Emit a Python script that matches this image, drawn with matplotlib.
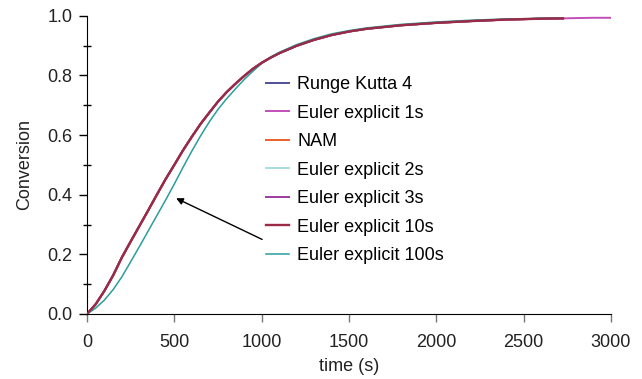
import matplotlib
matplotlib.use('Agg')
import matplotlib.pyplot as plt
from matplotlib.ticker import MultipleLocator, FormatStrFormatter

plt.rcParams['font.family'] = ['Liberation Sans', 'DejaVu Sans']

# time grid (s)
time = [0, 50, 100, 150, 200, 250, 300, 350, 400, 450, 500, 550, 600, 650, 700, 750, 800,
        850, 900, 950, 1000, 1050, 1100, 1200, 1300, 1400, 1500, 1600, 1800, 2000, 2200,
        2400, 2600, 2725]
# small-step solvers all sit on top of each other
conv_fine = [0, 0.033, 0.078, 0.13, 0.19, 0.243, 0.295, 0.347, 0.40, 0.452, 0.50, 0.549,
             0.594, 0.637, 0.675, 0.712, 0.744, 0.772, 0.798, 0.822, 0.842, 0.859, 0.874,
             0.899, 0.919, 0.935, 0.947, 0.956, 0.968, 0.976, 0.982, 0.987, 0.990, 0.991]
# Euler explicit 100s lags behind at the start
conv_100s = [0, 0.02, 0.047, 0.082, 0.125, 0.175, 0.226, 0.278, 0.33, 0.382, 0.436, 0.492,
             0.546, 0.597, 0.644, 0.686, 0.722, 0.755, 0.786, 0.814, 0.84, 0.861, 0.877,
             0.903, 0.923, 0.939, 0.95, 0.959, 0.971, 0.979, 0.985, 0.989, 0.991, 0.992]
# Euler explicit 1s runs out to 3000 s
time_tail = [2800, 2900, 3000]
conv_tail = [0.992, 0.993, 0.993]

labels = ['Runge Kutta 4', 'Euler explicit 1s', 'NAM', 'Euler explicit 2s',
          'Euler explicit 3s', 'Euler explicit 10s', 'Euler explicit 100s']
colors = ['#4f4f95', '#c24fb8', '#e8602c', '#a8dede', '#9c3ca0', '#9a2a45', '#2a9d9d']

fig = plt.figure(figsize=(6.42, 3.79), dpi=100)
ax = fig.add_axes([87 / 642, 1 - 314 / 379, (611 - 87) / 642, (314 - 15.7) / 379])

for i, lab in enumerate(labels):
    if lab == 'Euler explicit 100s':
        ax.plot(time, conv_100s, color=colors[i], lw=1.1, label=lab, zorder=3)
    elif lab == 'Euler explicit 1s':
        ax.plot(time + time_tail, conv_fine + conv_tail, color=colors[i], lw=1.4, label=lab, zorder=2)
    elif lab == 'Euler explicit 10s':
        ax.plot(time, conv_fine, color=colors[i], lw=1.7, label=lab, zorder=4)
    else:
        ax.plot(time, conv_fine, color=colors[i], lw=1.4, label=lab, zorder=2)

ax.annotate('', xy=(496, 0.392), xytext=(1017, 0.246),
            arrowprops=dict(arrowstyle='-|>', color='black', lw=1.0, mutation_scale=10))

ax.set_xlim(0, 3000)
ax.set_ylim(0, 1.0)
ax.set_xticks([0, 500, 1000, 1500, 2000, 2500, 3000])
ax.yaxis.set_major_locator(MultipleLocator(0.2))
ax.yaxis.set_minor_locator(MultipleLocator(0.1))
ax.yaxis.set_major_formatter(FormatStrFormatter('%.1f'))

ax.spines['top'].set_visible(False)
ax.spines['right'].set_visible(False)
ax.tick_params(axis='both', which='major', direction='out', length=5.5, width=1,
               labelsize=13, labelcolor='#222222', pad=5)
ax.tick_params(axis='x', which='major', color='#777777', pad=9)
ax.tick_params(axis='y', which='minor', direction='inout', length=6, width=1)

ax.set_xlabel('time (s)', fontsize=13, color='#222222', labelpad=5)
ax.set_ylabel('Conversion', fontsize=13, color='#222222', labelpad=10)

leg = ax.legend(loc='upper left', bbox_to_anchor=(266 / 642, 1 - 76 / 379),
                bbox_transform=fig.transFigure, frameon=False, fontsize=13,
                handlelength=1.28, handletextpad=0.44, labelspacing=0.64,
                borderpad=0, borderaxespad=0)

plt.savefig('out.png', dpi=100)
